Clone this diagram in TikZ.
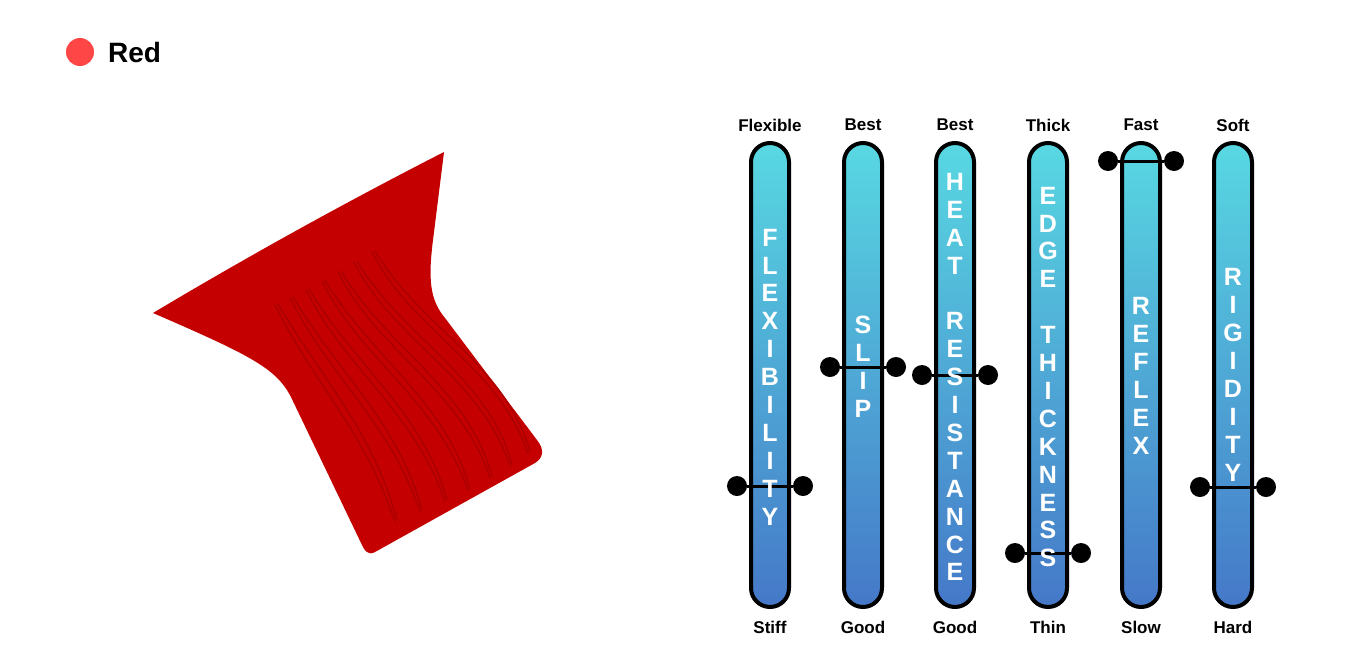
\documentclass[tikz,border=0pt]{standalone}
\usepackage{fontspec}
\setmainfont{Liberation Sans}
\begin{document}
\begin{tikzpicture}[x=1pt,y=-1pt,
  bar/.style={draw=black,line width=4pt,rounded corners=19pt,top color=barTop,bottom color=barBot},
  vtext/.style={text=white,font=\bfseries\fontsize{25}{27.9}\selectfont,align=center,inner sep=0pt},
  lab/.style={font=\bfseries\fontsize{17}{20}\selectfont},
  dot/.style={circle,fill=black,minimum size=20pt,inner sep=0pt},
  rib/.style={draw=ribred,line width=1.2pt}]
\definecolor{barTop}{HTML}{58D8E2}
\definecolor{barBot}{HTML}{4578C8}
\definecolor{sq}{HTML}{C40000}
\definecolor{ribred}{HTML}{A80000}
\definecolor{reddot}{HTML}{FF4646}
\useasboundingbox (0,0) rectangle (1345,657);
\fill[white] (0,0) rectangle (1345,657);
% header
\node[circle,fill=reddot,minimum size=28pt,inner sep=0pt] (rd) at (80,52) {};
\node[anchor=west,font=\bfseries\fontsize{28}{30}\selectfont,inner sep=0pt] (rt) at (108,52) {Red};
% squeegee
\fill[sq] (153,313) .. controls (250,255) and (350,200) .. (444,152)
  -- (433,240) .. controls (428,280) and (430,300) .. (445,318)
  -- (537,440) .. controls (545,450) and (543,458) .. (535,463)
  -- (375,552) .. controls (368,556) and (364,550) .. (362,545)
  -- (290,395) .. controls (275,368) and (250,355) .. (153,313) -- cycle;
\foreach \a/\b/\c/\d in {275/305/395/522, 290/298/420/512, 306/290/445/502, 322/281/468/491, 338/272/490/478, 354/262/510/466, 372/252/528/454}{
  \draw[rib] (\a,\b) .. controls ({\a+40},{\b+80}) and ({\c-30},{\d-90}) .. (\c,\d);
  \draw[rib] ({\a+3},{\b-1}) .. controls ({\a+48},{\b+75}) and ({\c-22},{\d-90}) .. ({\c+2},{\d-2});
}
% bars
\foreach \n/\x/\t/\bt/\sy in {1/770/Flexible/Stiff/486, 2/863/Best/Good/367, 3/955/Best/Good/375, 4/1048/Thick/Thin/553, 5/1141/Fast/Slow/161, 6/1233/Soft/Hard/487}{
  \path[bar] (\x-19,143) rectangle (\x+19,607);
  \node[lab] (top\n) at (\x,125) {\t};
  \node[lab] (bot\n) at (\x,627) {\bt};
  \node[dot] (l\n) at (\x-33,\sy) {};
  \node[dot] (r\n) at (\x+33,\sy) {};
  \draw[line width=3pt] (l\n) -- (r\n);
}
\node[vtext] (v1) at (770,377) {F\\L\\E\\X\\I\\B\\I\\L\\I\\T\\Y};
\node[vtext] (v2) at (863,367) {S\\L\\I\\P};
\node[vtext] (v3) at (955,377) {H\\E\\A\\T\\{}\\R\\E\\S\\I\\S\\T\\A\\N\\C\\E};
\node[vtext] (v4) at (1048,377) {E\\D\\G\\E\\{}\\T\\H\\I\\C\\K\\N\\E\\S\\S};
\node[vtext] (v5) at (1141,376) {R\\E\\F\\L\\E\\X};
\node[vtext] (v6) at (1233,375) {R\\I\\G\\I\\D\\I\\T\\Y};
\end{tikzpicture}
\end{document}
